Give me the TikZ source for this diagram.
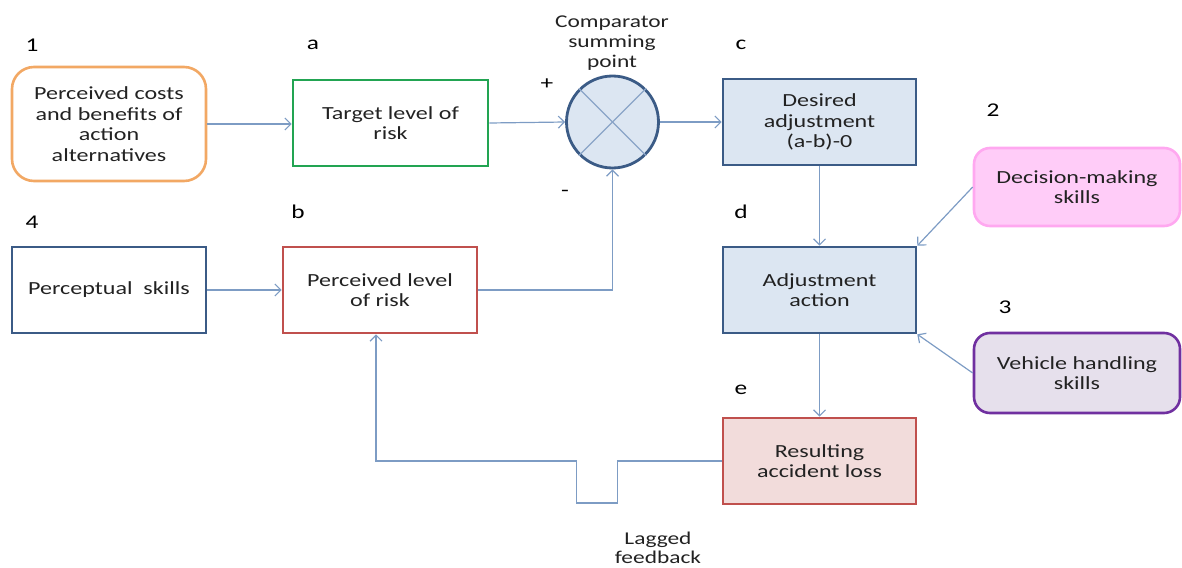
\documentclass[tikz,border=0pt]{standalone}
\usepackage{fontspec}
\setmainfont{Carlito}[FakeStretch=1.3]
\usetikzlibrary{arrows.meta}

\definecolor{txt}{HTML}{222222}
\definecolor{arrowc}{HTML}{7D9CC4}
\definecolor{crossc}{HTML}{8AA4C8}
\definecolor{navy}{HTML}{3B5B86}
\definecolor{paleblue}{HTML}{DCE6F2}
\definecolor{orangec}{HTML}{F2A864}
\definecolor{greenc}{HTML}{22A452}
\definecolor{redc}{HTML}{C0504D}
\definecolor{palered}{HTML}{F2DCDB}
\definecolor{purplec}{HTML}{7030A0}
\definecolor{palepurple}{HTML}{E6E0EC}
\definecolor{pinkc}{HTML}{FFA8F0}
\definecolor{palepink}{HTML}{FFCCF8}

\tikzset{
  box/.style={draw, line width=2.6pt, minimum width=194pt, minimum height=86pt,
    align=center, inner sep=0pt, text=txt,
    font=\fontsize{18.5}{20.5}\selectfont},
  roundbox/.style={box, rounded corners=16pt},
  lbl/.style={text=black, inner sep=0pt, font=\fontsize{19.5}{21}\selectfont},
  note/.style={text=txt, align=center, inner sep=0pt, font=\fontsize{18}{20}\selectfont},
  arr/.style={draw=arrowc, line width=1.2pt,
    -{Straight Barb[length=6pt,width=12pt,line width=1.2pt]}},
  crossline/.style={draw=crossc, line width=1.3pt}
}

\begin{document}
\begin{tikzpicture}[x=1pt,y=-1pt]
\useasboundingbox (0,0) rectangle (1182,567);

% main blocks
\node[roundbox, draw=orangec, minimum height=114pt, rounded corners=22pt] (costs) at (109,124)
  {Perceived costs\\and benefits of\\action\\alternatives};
\node[box, draw=greenc, minimum width=195pt] (target) at (390.5,123) {Target level of\\risk};
\node[circle, draw=navy, fill=paleblue, line width=2.8pt, minimum size=92pt, inner sep=0pt]
  (cmp) at (612.5,122) {};
\node[box, draw=navy, fill=paleblue, minimum width=193pt] (desired) at (819.5,122)
  {Desired\\adjustment\\(a-b)-0};
\node[roundbox, draw=pinkc, fill=palepink, minimum width=206pt, minimum height=78pt]
  (decision) at (1077,187) {Decision-making\\skills};
\node[box, draw=navy, fill=paleblue, minimum width=193pt] (adjust) at (819.5,290)
  {Adjustment\\action};
\node[roundbox, draw=purplec, fill=palepurple, minimum width=206pt, minimum height=80pt]
  (vehicle) at (1077,373) {Vehicle handling\\skills};
\node[box, draw=redc, fill=palered, minimum width=193pt] (loss) at (819.5,461)
  {Resulting\\accident loss};
\node[box, draw=navy] (percept) at (109,290) {Perceptual\ \ skills};
\node[box, draw=redc] (perceived) at (380,290) {Perceived level\\of risk};

% cross inside the comparator
\draw[crossline] (cmp.north west) -- (cmp.south east);
\draw[crossline] (cmp.north east) -- (cmp.south west);

% labels
\node[lbl] (l1) at (32,45) {1};
\node[lbl] (la) at (313,45) {a};
\node[lbl] (lc) at (741,45) {c};
\node[lbl] (l2) at (993,110) {2};
\node[lbl] (l4) at (32,222) {4};
\node[lbl] (lb) at (298,212) {b};
\node[lbl] (ld) at (741,212) {d};
\node[lbl] (l3) at (1005,307) {3};
\node[lbl] (le) at (741,390) {e};
\node[lbl] (plus) at (547,84) {+};
\node[lbl] (minus) at (565,193) {-};
\node[note] (cmplabel) at (612,43) {Comparator\\summing\\point};
\node[note, font=\fontsize{18}{19}\selectfont] (lagged) at (658,548) {Lagged\\feedback};

% connectors
\draw[arr] (costs.east) -- (costs.east -| target.west);
\draw[arr] (target.east) -- (cmp.west);
\draw[arr] (cmp.east) -- (desired.west);
\draw[arr] (percept.east) -- (perceived.west);
\draw[arr] (perceived.east) -| (cmp.south);
\draw[arr] (desired.south) -- (adjust.north);
\draw[arr] (adjust.south) -- (loss.north);
\draw[arr] (decision.west) -- (adjust.north east);
\draw[arr] (vehicle.west) -- (adjust.south east);

% lagged feedback loop with its delay notch
\coordinate (fbin) at ([xshift=-4pt]perceived.south);
\draw[arr] (loss.west) -- ++(-104,0) -- ++(0,42) -- ++(-41,0) -- ++(0,-42) -| (fbin);
\end{tikzpicture}
\end{document}
